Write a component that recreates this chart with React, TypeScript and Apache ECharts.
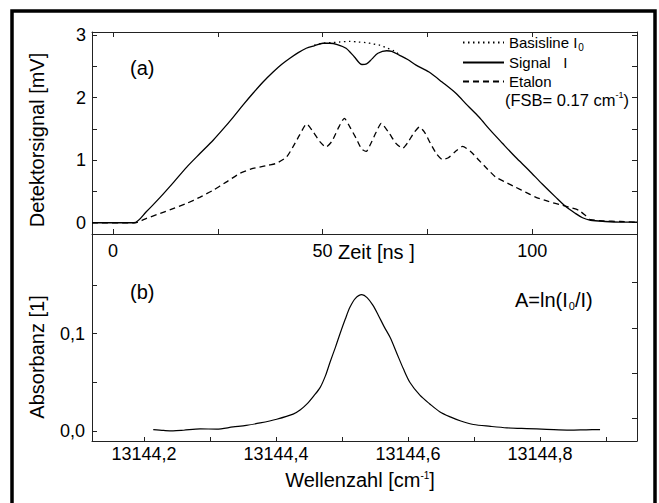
import React, { useEffect, useRef } from "react";
import * as echarts from "echarts";

const FONT = '"Liberation Sans", Arial, Helvetica, sans-serif';

// ---- panel (a): time axis [ns] and detector signal [mV]
const signalTime = [-5, 0, 5, 8, 11.3, 14.5, 17.6, 20.8, 23.9, 26.3, 28.7, 31, 33.4, 35.8, 38.2, 40.2, 42.2, 44.2, 46.1, 48, 50.1, 51.7, 53.5, 55.6, 57.6, 59.4, 60.5, 61.8, 63.2, 65.3, 66.5, 68.3, 70.3, 72.3, 75.4, 78.5, 81.8, 84.5, 87.3, 90, 92.9, 96, 99.2, 102.4, 105.6, 108, 110.3, 112, 113.9, 117.4, 121, 125];
const signalValues = [0, 0, 0, 0.18, 0.41, 0.65, 0.89, 1.11, 1.32, 1.5, 1.69, 1.88, 2.07, 2.25, 2.41, 2.53, 2.63, 2.72, 2.79, 2.83, 2.87, 2.87, 2.85, 2.79, 2.65, 2.53, 2.54, 2.62, 2.71, 2.75, 2.74, 2.68, 2.61, 2.52, 2.41, 2.25, 2.07, 1.88, 1.69, 1.48, 1.27, 1.05, 0.84, 0.62, 0.41, 0.26, 0.15, 0.08, 0.04, 0.02, 0.01, 0.01];

const baseTime = [48, 50, 52, 54, 56.5, 58.5, 60.4, 62, 63.6, 65.5, 67, 68.5];
const baseValues = [2.84, 2.87, 2.88, 2.89, 2.9, 2.89, 2.88, 2.86, 2.84, 2.79, 2.75, 2.68];

const etalonTime = [-5, 5.3, 8, 11.3, 14.5, 17.6, 20.8, 23.9, 27, 30.3, 33, 35, 37, 39, 41.4, 43, 44.5, 46.2, 47.8, 49.3, 50.8, 52.2, 53.8, 55.2, 56.6, 58, 59.3, 60.4, 61.6, 62.8, 64, 65.9, 67.5, 69.1, 70.3, 71.6, 73.1, 74.3, 75.8, 77.2, 78.6, 80, 81.7, 83.4, 85.3, 87.3, 89.3, 91.3, 93.6, 96, 98.4, 100.8, 103.9, 107.1, 109.2, 111.1, 112.8, 113.9, 117, 121, 125];
const etalonValues = [0, 0, 0.07, 0.15, 0.23, 0.31, 0.41, 0.52, 0.65, 0.79, 0.86, 0.89, 0.92, 0.95, 1.05, 1.22, 1.4, 1.58, 1.45, 1.3, 1.21, 1.3, 1.52, 1.67, 1.52, 1.35, 1.18, 1.14, 1.28, 1.45, 1.59, 1.43, 1.27, 1.19, 1.28, 1.42, 1.53, 1.45, 1.26, 1.1, 1.01, 1.04, 1.14, 1.22, 1.14, 1.0, 0.86, 0.73, 0.65, 0.57, 0.49, 0.41, 0.34, 0.28, 0.24, 0.2, 0.11, 0.05, 0.03, 0.02, 0.01];

const timeTicks = [0, 25, 50, 75, 100];
const timeLabels = [0, 50, 100];
const signalTicks = [0, 0.5, 1, 1.5, 2, 2.5, 3];
const signalLabels = [0, 1, 2, 3];

// ---- panel (b): wavenumber [cm-1] and absorbance
const wavenumber = [13144.214, 13144.23, 13144.244, 13144.26, 13144.285, 13144.31, 13144.335, 13144.355, 13144.376, 13144.401, 13144.426, 13144.437, 13144.447, 13144.457, 13144.467, 13144.475, 13144.482, 13144.49, 13144.497, 13144.505, 13144.512, 13144.52, 13144.53, 13144.538, 13144.547, 13144.555, 13144.564, 13144.573, 13144.583, 13144.593, 13144.603, 13144.618, 13144.633, 13144.648, 13144.664, 13144.68, 13144.699, 13144.725, 13144.75, 13144.78, 13144.81, 13144.845, 13144.87, 13144.891];
const absorbance = [0.0017, 0.0008, 0.0003, 0.001, 0.0024, 0.0022, 0.0044, 0.006, 0.0085, 0.0123, 0.0175, 0.022, 0.028, 0.036, 0.045, 0.057, 0.071, 0.086, 0.1, 0.115, 0.127, 0.136, 0.14, 0.137, 0.129, 0.119, 0.107, 0.096, 0.08, 0.064, 0.05, 0.037, 0.028, 0.02, 0.0147, 0.0105, 0.0069, 0.005, 0.0035, 0.0027, 0.002, 0.0012, 0.0015, 0.0017];

const wnTicks = [13144.2, 13144.3, 13144.4, 13144.5, 13144.6, 13144.7, 13144.8, 13144.9];
const wnLabels = [13144.2, 13144.4, 13144.6, 13144.8];
const absTicks = [0, 0.05, 0.1, 0.15];
const absLabels = [0, 0.1];
const absRightTicks = [1, 3, 5, 7];

const zip = (xs: number[], ys: number[]) => xs.map((x, i) => [x, ys[i]]);

const AX = { color: "#222", width: 1 };

function frameAxis(extra: any) {
  return {
    type: "value",
    axisLine: { show: true, onZero: false, lineStyle: AX },
    splitLine: { show: false },
    ...extra,
  };
}

export default function App() {
  const ref = useRef<HTMLDivElement>(null);
  useEffect(() => {
    document.body.style.margin = "0";
    if (!ref.current) return;
    const chart = echarts.init(ref.current, undefined, { renderer: "svg" });
    const labelStyle = { fontSize: 18, fontFamily: FONT, color: "#000" };
    const option: any = {
      animation: false,
      grid: [
        { left: 92, top: 32, width: 545, height: 202 },
        { left: 92, top: 234, width: 545, height: 207 },
      ],
      xAxis: [
        frameAxis({
          gridIndex: 0, position: "bottom", min: -5, max: 125,
          axisTick: { show: true, inside: true, length: 5, customValues: timeTicks, lineStyle: AX },
          axisLabel: { show: true, customValues: timeLabels, margin: 8, ...labelStyle },
        }),
        frameAxis({
          gridIndex: 0, position: "top", min: -5, max: 125,
          axisTick: { show: true, inside: true, length: 5, customValues: timeTicks, lineStyle: AX },
          axisLabel: { show: false },
        }),
        frameAxis({
          gridIndex: 1, position: "bottom", min: 13144.1212, max: 13144.947,
          axisTick: { show: true, inside: true, length: 4, customValues: wnTicks, lineStyle: AX },
          axisLabel: {
            show: true, customValues: wnLabels, margin: 4, ...labelStyle,
            formatter: (v: number) => v.toFixed(1).replace(".", ","),
          },
        }),
      ],
      yAxis: [
        frameAxis({
          gridIndex: 0, position: "left", min: -0.18, max: 3.05,
          axisTick: { show: true, inside: true, length: 5, customValues: signalTicks, lineStyle: AX },
          axisLabel: { show: true, customValues: signalLabels, margin: 6, ...labelStyle, formatter: (v: number) => String(v) },
        }),
        frameAxis({
          gridIndex: 0, position: "right", min: -0.18, max: 3.05,
          axisTick: { show: true, inside: true, length: 5, customValues: signalTicks, lineStyle: AX },
          axisLabel: { show: false },
        }),
        frameAxis({
          gridIndex: 1, position: "left", min: -0.01, max: 0.2022,
          axisTick: { show: true, inside: true, length: 5, customValues: absTicks, lineStyle: AX },
          axisLabel: {
            show: true, customValues: absLabels, margin: 7, ...labelStyle,
            formatter: (v: number) => v.toFixed(1).replace(".", ","),
          },
        }),
        frameAxis({
          gridIndex: 1, position: "right", min: 0, max: 9.14,
          axisTick: { show: true, inside: true, length: 5, customValues: absRightTicks, lineStyle: AX },
          axisLabel: { show: false },
        }),
      ],
      legend: [
        { name: "Basisline", top: 35 },
        { name: "Signal", top: 55 },
        { name: "Etalon", top: 74 },
      ].map((l) => ({
        data: [l.name],
        orient: "vertical",
        left: 462,
        top: l.top,
        padding: 0,
        itemWidth: 41,
        itemHeight: 16,
        selectedMode: false,
        itemStyle: { opacity: 0, color: "transparent", borderWidth: 0 },
        textStyle: {
          fontSize: 15, fontFamily: FONT, color: "#000", padding: [0, 0, 0, 0],
          rich: { sub: { fontSize: 10, fontFamily: FONT, color: "#000", padding: [9, 0, 0, 1] } },
        },
        formatter: (name: string) =>
          name === "Basisline" ? "Basisline I{sub|0}" : name === "Signal" ? "Signal   I" : name,
      })),
      series: [
        {
          name: "Basisline", type: "line", xAxisIndex: 0, yAxisIndex: 0,
          data: zip(baseTime, baseValues), symbol: "none", smooth: 0.3, z: 1,
          lineStyle: { color: "#000", width: 1.3, type: [1.5, 3.5] }, itemStyle: { color: "#000" },
        },
        {
          name: "Signal", type: "line", xAxisIndex: 0, yAxisIndex: 0,
          data: zip(signalTime, signalValues), symbol: "none", smooth: 0.3, z: 3,
          lineStyle: { color: "#000", width: 1.3, type: "solid" }, itemStyle: { color: "#000" },
        },
        {
          name: "Etalon", type: "line", xAxisIndex: 0, yAxisIndex: 0,
          data: zip(etalonTime, etalonValues), symbol: "none", smooth: 0.2, z: 2,
          lineStyle: { color: "#000", width: 1.3, type: [6, 4] }, itemStyle: { color: "#000" },
        },
        {
          name: "Absorbanz", type: "line", xAxisIndex: 2, yAxisIndex: 2,
          data: zip(wavenumber, absorbance), symbol: "none", smooth: 0.3,
          lineStyle: { color: "#000", width: 1.2 }, itemStyle: { color: "#000" },
        },
      ],
      graphic: [
        {
          type: "rect", shape: { x: 12, y: 11, width: 643, height: 500 },
          style: { fill: "none", stroke: "#000", lineWidth: 3.5 }, silent: true,
        },
        {
          type: "text", x: 37, y: 140, rotation: Math.PI / 2,
          style: { text: "Detektorsignal [mV]", fontSize: 20, fontFamily: FONT, fill: "#000", align: "center", verticalAlign: "middle", textAlign: "center", textVerticalAlign: "middle" },
        },
        {
          type: "text", x: 37, y: 357, rotation: Math.PI / 2,
          style: { text: "Absorbanz [1]", fontSize: 20, fontFamily: FONT, fill: "#000", align: "center", verticalAlign: "middle", textAlign: "center", textVerticalAlign: "middle" },
        },
        {
          type: "text", x: 360, y: 480,
          style: {
            text: "Wellenzahl [cm{sup|-1}]", fontSize: 20, fontFamily: FONT, fill: "#000",
            align: "center", verticalAlign: "middle", textAlign: "center", textVerticalAlign: "middle",
            rich: { sup: { fontSize: 10, fontFamily: FONT, fill: "#000", color: "#000", padding: [0, 0, 9, 0] } },
          },
        },
        {
          type: "text", x: 338, y: 252,
          style: { text: "Zeit [ns ]", fontSize: 20, fontFamily: FONT, fill: "#000", align: "left", verticalAlign: "middle", textAlign: "left", textVerticalAlign: "middle" },
        },
        {
          type: "text", x: 130, y: 68,
          style: { text: "(a)", fontSize: 20, fontFamily: FONT, fill: "#000", align: "left", verticalAlign: "middle", textAlign: "left", textVerticalAlign: "middle" },
        },
        {
          type: "text", x: 130, y: 292,
          style: { text: "(b)", fontSize: 20, fontFamily: FONT, fill: "#000", align: "left", verticalAlign: "middle", textAlign: "left", textVerticalAlign: "middle" },
        },
        {
          type: "text", x: 515, y: 300,
          style: {
            text: "A=ln(I{sub|0}/I)", fontSize: 20, fontFamily: FONT, fill: "#000",
            align: "left", verticalAlign: "middle", textAlign: "left", textVerticalAlign: "middle",
            rich: { sub: { fontSize: 11, fontFamily: FONT, fill: "#000", color: "#000", padding: [12, 0, 0, 1] } },
          },
        },
        {
          type: "text", x: 505, y: 100,
          style: {
            text: "(FSB= 0.17 cm{sup|-1})", fontSize: 16.5, fontFamily: FONT, fill: "#000",
            align: "left", verticalAlign: "middle", textAlign: "left", textVerticalAlign: "middle",
            rich: { sup: { fontSize: 9, fontFamily: FONT, fill: "#000", color: "#000", padding: [0, 0, 10, 0] } },
          },
        },
      ],
    };
    chart.setOption(option);
    return () => chart.dispose();
  }, []);
  return <div ref={ref} style={{ width: 659, height: 503 }} />;
}
